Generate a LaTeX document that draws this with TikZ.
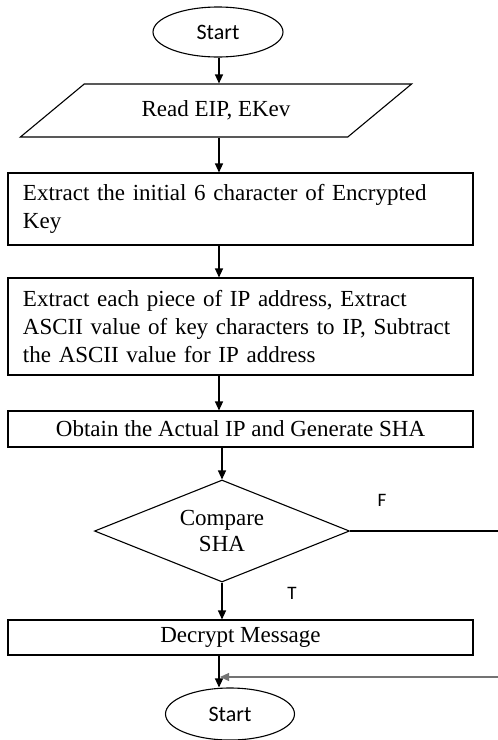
\documentclass[tikz,border=0pt]{standalone}
\usepackage{fontspec}
\setmainfont{Liberation Serif}
\newfontfamily\labelfont{Carlito}
\usetikzlibrary{shapes.geometric,arrows.meta}

\tikzset{
  flow/.style={line width=1.2pt, -{Triangle[length=9pt,width=8pt]}},
  terminal/.style={ellipse, draw, line width=1.1pt, minimum width=130pt, minimum height=50pt,
    inner sep=0pt, font=\labelfont\fontsize{22}{26}\selectfont},
  iobox/.style={trapezium, draw, line width=1.1pt, trapezium left angle=28.4,
    trapezium right angle=151.6, trapezium stretches=true, minimum width=392pt,
    minimum height=53pt, inner sep=0pt, font=\fontsize{23}{28}\selectfont},
  procbox/.style={rectangle, draw, line width=1.1pt, minimum width=465pt, inner ysep=0pt,
    font=\fontsize{23}{28}\selectfont},
  decision/.style={diamond, draw, line width=1.1pt, minimum width=255pt, minimum height=102pt,
    aspect=2.5, inner sep=0pt, align=center, font=\fontsize{23}{26}\selectfont},
  branch/.style={font=\labelfont\fontsize{19}{22}\selectfont}
}

\begin{document}
\begin{tikzpicture}[x=1pt,y=-1pt]
    \useasboundingbox (0,0) rectangle (498,740);
    \coordinate (spine) at (219,0);

    % Start
    \node[terminal] (start) at (218,32) {Start};

    % Input
    \node[iobox] (read) at (216,110.5) {Read EIP, EKev};

    % Steps
    \node[procbox, minimum height=72pt, text width=435pt, inner xsep=15pt, align=left]
      (key) at (240.5,209) {Extract the initial 6 character of Encrypted\\Key};
    \node[procbox, minimum height=97pt, text width=435pt, inner xsep=15pt, align=left]
      (piece) at (240.5,326.5) {Extract each piece of IP address, Extract\\ASCII value of key characters to IP, Subtract\\the ASCII value for IP address};
    \node[procbox, minimum height=36pt] (sha) at (240.5,429) {Obtain the Actual IP and Generate SHA};

    % Decision
    \node[decision] (cmp) at (222,531) {Compare\\SHA};
    \node[branch] (f) at (382,500) {F};
    \node[branch] (t) at (292,593) {T};

    \node[procbox, minimum height=35pt] (dec) at (240.5,637.5) {Decrypt Message};

    % End
    \node[terminal, minimum height=52pt, minimum width=129pt] (stop) at (230,714) {Start};

    % Arrows
    \draw[flow] (start.south -| spine) -- (read.north -| spine);
    \draw[flow] (read.south -| spine) -- (key.north -| spine);
    \draw[flow] (key.south -| spine) -- (piece.north -| spine);
    \draw[flow] (piece.south -| spine) -- (sha.north -| spine);
    \draw[flow] (sha.south -| cmp.north) -- (cmp.north);
    \draw[flow] (cmp.south) -- (cmp.south |- dec.north);
    \draw[flow] (dec.south -| spine) -- (stop.north -| spine);

    % False branch
    \coordinate (fout) at (498,531);
    \coordinate (fin) at (498,677);
    \draw[line width=1.1pt] (cmp.east) -- (fout);
    \draw[flow, black!55] (fin) -- ([xshift=1pt]fin -| spine);
\end{tikzpicture}
\end{document}
